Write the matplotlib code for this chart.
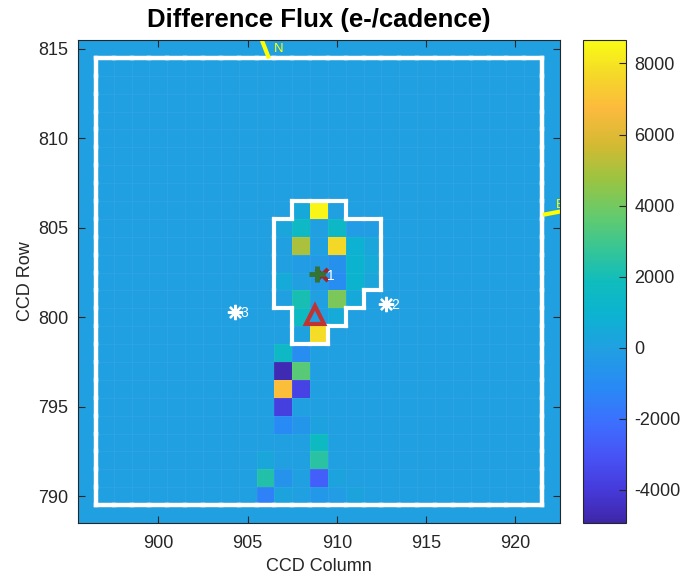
import numpy as np
import matplotlib
matplotlib.use('Agg')
import matplotlib.pyplot as plt
from matplotlib.colors import LinearSegmentedColormap
from matplotlib.collections import LineCollection

plt.rcParams['font.family'] = ['Liberation Sans', 'DejaVu Sans']
plt.rcParams['axes.unicode_minus'] = False

# pixel grid
col_min, col_max = 896, 922
row_min, row_max = 789, 815
clim = (-4930, 8660)

# difference flux of the non-background pixels (col, row, e-/cadence)
pix_col = [909, 908, 907, 908, 910, 911, 912,
           908, 910, 911, 912,
           908, 909, 910, 911, 912,
           907, 909, 910, 911, 912,
           908, 910, 911,
           908, 910,
           908, 909,
           907, 908,
           907, 908,
           907, 908,
           907,
           907, 908, 909,
           909,
           906, 909,
           906, 907, 909, 910,
           906, 907, 909, 910, 911]
pix_row = [806, 806, 805, 805, 805, 805, 805,
           804, 804, 804, 804,
           803, 803, 803, 803, 803,
           802, 802, 802, 802, 802,
           801, 801, 801,
           800, 800,
           799, 799,
           798, 798,
           797, 797,
           796, 796,
           795,
           794, 794, 794,
           793,
           792, 792,
           791, 791, 791, 791,
           790, 790, 790, 790, 790]
pix_val = [8500, 400, 300, 1500, 1400, -200, -100,
           5000, 7700, 900, 300,
           -200, -300, -700, 1000, 500,
           500, -300, -900, 1000, 300,
           2100, 4200, 400,
           1600, 500,
           100, 7800,
           1500, -900,
           -4700, 3500,
           6900, -3700,
           -3800,
           -1100, -500, 100,
           1600,
           300, 2500,
           2300, -600, -2600, 200,
           -1400, 200, -400, -200, 200]

# optimal aperture, row -> (first col, last col)
aper_rows = [806, 805, 804, 803, 802, 801, 800, 799]
aper_c0 = [908, 907, 907, 907, 907, 907, 908, 908]
aper_c1 = [910, 912, 912, 912, 912, 911, 910, 909]

# collected pixels box
box_cols = (897, 921)
box_rows = (790, 814)

# centroids / catalog stars
cent_x, cent_y = 908.9, 802.4
fit_x, fit_y = 909.15, 802.35
tri_x, tri_y = 908.8, 800.15
star_x = [909.15, 912.75, 904.3]
star_y = [802.35, 800.75, 800.3]
star_lbl = ['1', '2', '3']

# parula-like colormap
parula = LinearSegmentedColormap.from_list('parula', [
    (0.00, (0.243, 0.150, 0.660)),
    (0.07, (0.275, 0.230, 0.860)),
    (0.14, (0.280, 0.330, 0.965)),
    (0.21, (0.235, 0.440, 0.995)),
    (0.28, (0.160, 0.540, 0.960)),
    (0.36, (0.130, 0.625, 0.885)),
    (0.43, (0.050, 0.700, 0.820)),
    (0.50, (0.060, 0.740, 0.740)),
    (0.57, (0.220, 0.775, 0.580)),
    (0.64, (0.400, 0.795, 0.420)),
    (0.71, (0.600, 0.770, 0.260)),
    (0.78, (0.820, 0.730, 0.200)),
    (0.86, (0.990, 0.730, 0.240)),
    (0.93, (0.960, 0.850, 0.160)),
    (1.00, (0.977, 0.984, 0.080))])


def mask_edges(cells):
    s = set(cells)
    segs = []
    for (c, r) in s:
        if (c, r + 1) not in s:
            segs.append([(c - .5, r + .5), (c + .5, r + .5)])
        if (c, r - 1) not in s:
            segs.append([(c - .5, r - .5), (c + .5, r - .5)])
        if (c - 1, r) not in s:
            segs.append([(c - .5, r - .5), (c - .5, r + .5)])
        if (c + 1, r) not in s:
            segs.append([(c + .5, r - .5), (c + .5, r + .5)])
    return segs


def all_edges(cells):
    segs = []
    for (c, r) in cells:
        segs.append([(c - .5, r + .5), (c + .5, r + .5)])
        segs.append([(c - .5, r - .5), (c - .5, r + .5)])
    return segs


ncol = col_max - col_min + 1
nrow = row_max - row_min + 1
flux = np.zeros((nrow, ncol))
for c, r, v in zip(pix_col, pix_row, pix_val):
    flux[r - row_min, c - col_min] = v

fig = plt.figure(figsize=(6.87, 5.82), dpi=100)
ax = fig.add_axes([78 / 687, 1 - 523 / 582, 482 / 687, 483 / 582])
im = ax.imshow(flux, origin='lower', cmap=parula, vmin=clim[0], vmax=clim[1],
               extent=[col_min - .5, col_max + .5, row_min - .5, row_max + .5],
               aspect='auto', interpolation='nearest')

box_cells = [(c, r) for c in range(box_cols[0], box_cols[1] + 1)
             for r in range(box_rows[0], box_rows[1] + 1)]
aper_cells = [(c, r) for r, c0, c1 in zip(aper_rows, aper_c0, aper_c1)
              for c in range(c0, c1 + 1)]

ax.add_collection(LineCollection(all_edges(box_cells), colors='white',
                                 linewidths=0.7, alpha=0.05))
ax.add_collection(LineCollection(mask_edges(box_cells), colors='white',
                                 linewidths=3.2, capstyle='projecting'))
ax.add_collection(LineCollection(mask_edges(aper_cells), colors='white',
                                 linewidths=3.0, capstyle='projecting'))

# compass
ax.plot([906.16, 905.6], [814.57, 816.0], color=(1, 1, 0), lw=3, clip_on=True)
ax.text(906.5, 815.0, 'N', color=(1, 1, 0), fontsize=9.5, ha='left', va='center')
ax.plot([921.66, 923.5], [805.75, 806.1], color=(1, 1, 0), lw=3, clip_on=True)
ax.text(922.25, 806.25, 'E', color=(1, 1, 0), fontsize=9.5, ha='left',
        va='center', clip_on=True)

# stars
ax.plot(star_x[1:], star_y[1:], ls='none', marker=(8, 2, 0), color='white',
        ms=11, mew=1.6)
for x, y, s in zip(star_x, star_y, star_lbl):
    ax.text(x + 0.3, y - 0.05, s, color='white', fontsize=10, ha='left',
            va='center')

ax.plot(fit_x, fit_y, marker='x', color=(0.62, 0.15, 0.15), ms=9, mew=3)
ax.plot(cent_x, cent_y, marker='+', color=(0.2, 0.45, 0.2), ms=12, mew=3.5)
ax.plot(tri_x, tri_y, marker='^', mfc='none', mec=(0.75, 0.2, 0.2), ms=13, mew=3)

ax.set_xlim(col_min - .5, col_max + .5)
ax.set_ylim(row_min - .5, row_max + .5)
ax.set_xticks(np.arange(900, 921, 5))
ax.set_yticks(np.arange(790, 816, 5))
ax.tick_params(direction='in', top=True, right=True, length=5, width=0.8,
               colors='0.15', labelsize=13)
ax.tick_params(axis='x', pad=9)
ax.tick_params(axis='y', pad=7)
for sp in ax.spines.values():
    sp.set_color('0.15')
    sp.set_linewidth(0.8)
ax.set_xlabel('CCD Column', fontsize=13, color='0.15', labelpad=4)
ax.set_ylabel('CCD Row', fontsize=13, color='0.15', labelpad=3)
ax.set_title('Difference Flux (e-/cadence)', fontsize=18.5, fontweight='bold',
             pad=9)

cax = fig.add_axes([583 / 687, 1 - 523 / 582, 43 / 687, 483 / 582])
cb = fig.colorbar(im, cax=cax, ticks=np.arange(-4000, 8001, 2000))
cb.ax.tick_params(direction='in', length=5, width=0.8, colors='0.15',
                  labelsize=13, pad=6)
cb.outline.set_edgecolor('0.15')
cb.outline.set_linewidth(0.8)

fig.savefig('out.png', dpi=100)
